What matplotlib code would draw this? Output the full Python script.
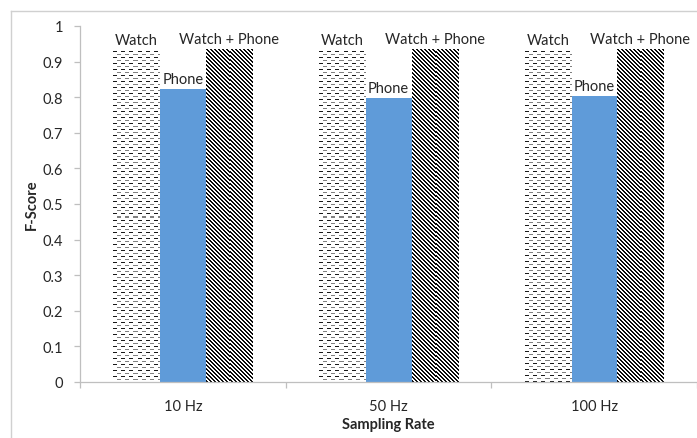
import numpy as np
import matplotlib
matplotlib.use("Agg")
import matplotlib.pyplot as plt
from matplotlib.lines import Line2D

# Data
rates = ["10 Hz", "50 Hz", "100 Hz"]
series_names = ["Watch", "Phone", "Watch + Phone"]
watch = [0.931, 0.931, 0.932]
phone = [0.823, 0.797, 0.802]
watch_phone = [0.934, 0.934, 0.934]

plt.rcParams["font.family"] = ["Lato", "DejaVu Sans"]

W, H = 697, 439
fig = plt.figure(figsize=(W / 100, H / 100), dpi=100)
ax = fig.add_axes([80 / W, 56 / H, 617 / W, 356 / H])

x = np.arange(len(rates))
bw = 0.225
blue = "#5f9bd9"
axis_grey = "#bfbfbf"
text_col = "#262626"
fs = 10.5

b_watch = ax.bar(x - bw, watch, bw, color="white", linewidth=0, zorder=2)
b_phone = ax.bar(x, phone, bw, color=blue, linewidth=0, zorder=2)
b_both = ax.bar(x + bw, watch_phone, bw, color="white", linewidth=0, zorder=2)

ax.set_xlim(-0.5, len(rates) - 0.5)
ax.set_ylim(0, 1)


def dashed_tile(h, w):
    img = np.ones((h, w))
    cols = np.arange(w)
    for r in range(h):
        if r % 6 == 1:
            img[r, (cols % 8) < 4] = 0.1
        elif r % 6 == 4:
            img[r, ((cols + 4) % 8) < 4] = 0.5
    return img


def diagonal_tile(h, w):
    rr, cc = np.mgrid[0:h, 0:w]
    return np.where(((cc - rr) % 4) < 2, 0.05, 1.0)


def fill_pattern(bar, tile_fn):
    x0, y0 = bar.get_x(), bar.get_y()
    x1, y1 = x0 + bar.get_width(), y0 + bar.get_height()
    (px0, py0), (px1, py1) = ax.transData.transform([(x0, y0), (x1, y1)])
    w = max(1, int(round(px1 - px0)))
    h = max(1, int(round(py1 - py0)))
    im = ax.imshow(tile_fn(h, w), cmap="gray", vmin=0, vmax=1,
                   extent=(x0, x1, y0, y1), origin="upper",
                   interpolation="nearest", aspect="auto", zorder=2.5)
    im.set_clip_path(bar)


for bar in b_watch:
    fill_pattern(bar, dashed_tile)
for bar in b_both:
    fill_pattern(bar, diagonal_tile)

ax.set_xlim(-0.5, len(rates) - 0.5)
ax.set_ylim(0, 1)

# Series labels above each bar
for bars, vals, name in [(b_watch, watch, series_names[0]),
                         (b_phone, phone, series_names[1]),
                         (b_both, watch_phone, series_names[2])]:
    for bar, v in zip(bars, vals):
        ax.annotate(name, (bar.get_x() + bar.get_width() / 2, v),
                    xytext=(0, 4.5), textcoords="offset points",
                    ha="center", va="baseline", fontsize=fs,
                    color=text_col, zorder=4)

# Axes styling
for s in ("top", "right"):
    ax.spines[s].set_visible(False)
for s in ("left", "bottom"):
    ax.spines[s].set_color(axis_grey)
    ax.spines[s].set_linewidth(0.9)

yt = np.round(np.arange(0, 1.01, 0.1), 1)
ax.set_yticks(yt)
ax.set_yticklabels(["0" if v == 0 else ("1" if v == 1 else f"{v:.1f}") for v in yt])
ax.tick_params(axis="y", direction="out", length=4, width=0.9,
               color=axis_grey, labelcolor=text_col, labelsize=fs, pad=8)

ax.set_xticks(np.arange(-0.5, len(rates), 1.0))
ax.set_xticklabels([])
ax.set_xticks(x, minor=True)
ax.set_xticklabels(rates, minor=True)
ax.tick_params(axis="x", which="major", direction="out", length=4,
               width=0.9, color=axis_grey)
ax.tick_params(axis="x", which="minor", length=0, labelcolor=text_col,
               labelsize=fs, pad=12)

ax.set_ylabel("F-Score", fontsize=fs, fontweight="bold", color=text_col,
              labelpad=2.5)
ax.set_xlabel("Sampling Rate", fontsize=fs, fontweight="bold",
              color=text_col, labelpad=3)

# Chart-area frame
fig.add_artist(Line2D([10.5 / W, 10.5 / W], [0, 1 - 12 / H],
                      transform=fig.transFigure, color="#d0d0d0", lw=1))
fig.add_artist(Line2D([10.5 / W, 1], [1 - 12 / H, 1 - 12 / H],
                      transform=fig.transFigure, color="#d0d0d0", lw=1))

fig.savefig("out.png", dpi=100)
